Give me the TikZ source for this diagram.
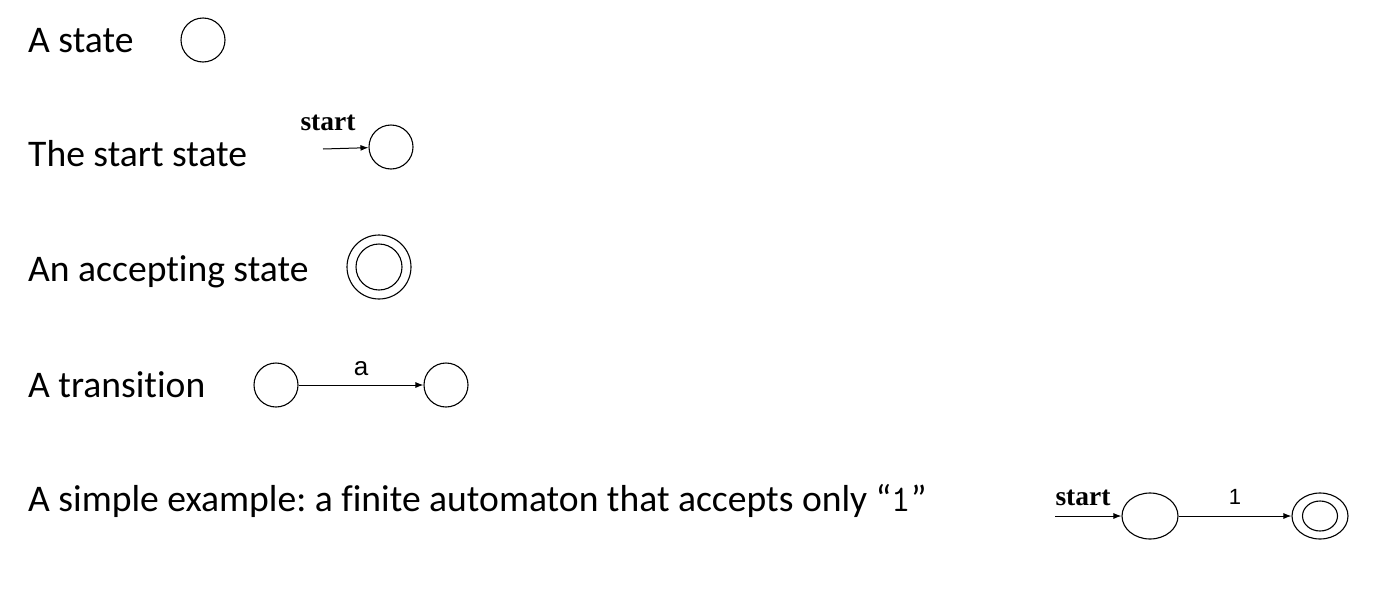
\documentclass[tikz,border=0pt]{standalone}
\usepackage{fontspec}
\setmainfont[Ligatures=NoCommon]{Carlito}
\newfontfamily\timesf{Liberation Serif}
\newfontfamily\arialf{Liberation Sans}
\usetikzlibrary{arrows.meta,shapes.geometric}
\begin{document}
\begin{tikzpicture}[x=1pt,y=-1pt,
  lbl/.style={anchor=base west,inner sep=0pt,font=\fontsize{37.6}{40}\selectfont\frenchspacing},
  st/.style={draw,circle,line width=1.1pt,minimum size=44pt,inner sep=0pt},
  ex/.style={draw,ellipse,line width=1.1pt,inner sep=0pt},
  arr/.style={line width=1pt,-{Latex[length=8pt,width=6pt]}},
  startlbl/.style={font=\timesf\bfseries\fontsize{27.5}{30}\selectfont,inner sep=0pt},
  edgelbl/.style={font=\arialf\fontsize{26}{28}\selectfont,inner sep=0pt}]
\useasboundingbox (0,0) rectangle (1392,592);
% labels
\node[lbl] (t1) at (28,52) {A state};
\node[lbl] (t2) at (28,166) {The start state};
\node[lbl] (t3) at (28,281) {An accepting state};
\node[lbl] (t4) at (28,397) {A transition};
\node[lbl] (t5) at (28,511) {A simple example: a finite automaton that accepts only “{\ttfamily 1}”};
% a state
\node[st] (s1) at (203,40) {};
% start state
\node[st] (s2) at (391,147) {};
\coordinate (s2in) at (323,149);
\node[startlbl] (s2l) at (328,123) {start};
\draw[arr] (s2in) -- (s2);
% accepting state
\node[st,minimum size=64pt] (acc) at (379,267) {};
\node[st,minimum size=46pt] (accin) at (379,267) {};
% transition
\node[st] (ta) at (276,385) {};
\node[st] (tb) at (446,385) {};
\draw[arr] (ta) -- (tb) node[edgelbl,midway,above=9pt] (tal) {a};
% example
\node[ex,minimum width=56pt,minimum height=46pt] (e1) at (1150,516) {};
\node[ex,minimum width=56pt,minimum height=46pt] (e2) at (1320,516) {};
\node[ex,minimum width=35pt,minimum height=30pt] (e2in) at (1320,516) {};
\coordinate (e1in) at (1055,516);
\node[startlbl] (e1l) at (1083,498) {start};
\draw[arr] (e1in) -- (e1);
\draw[arr] (e1) -- (e2) node[edgelbl,font=\arialf\fontsize{22}{24}\selectfont,midway,above=11pt] (el) {1};
\end{tikzpicture}
\end{document}
